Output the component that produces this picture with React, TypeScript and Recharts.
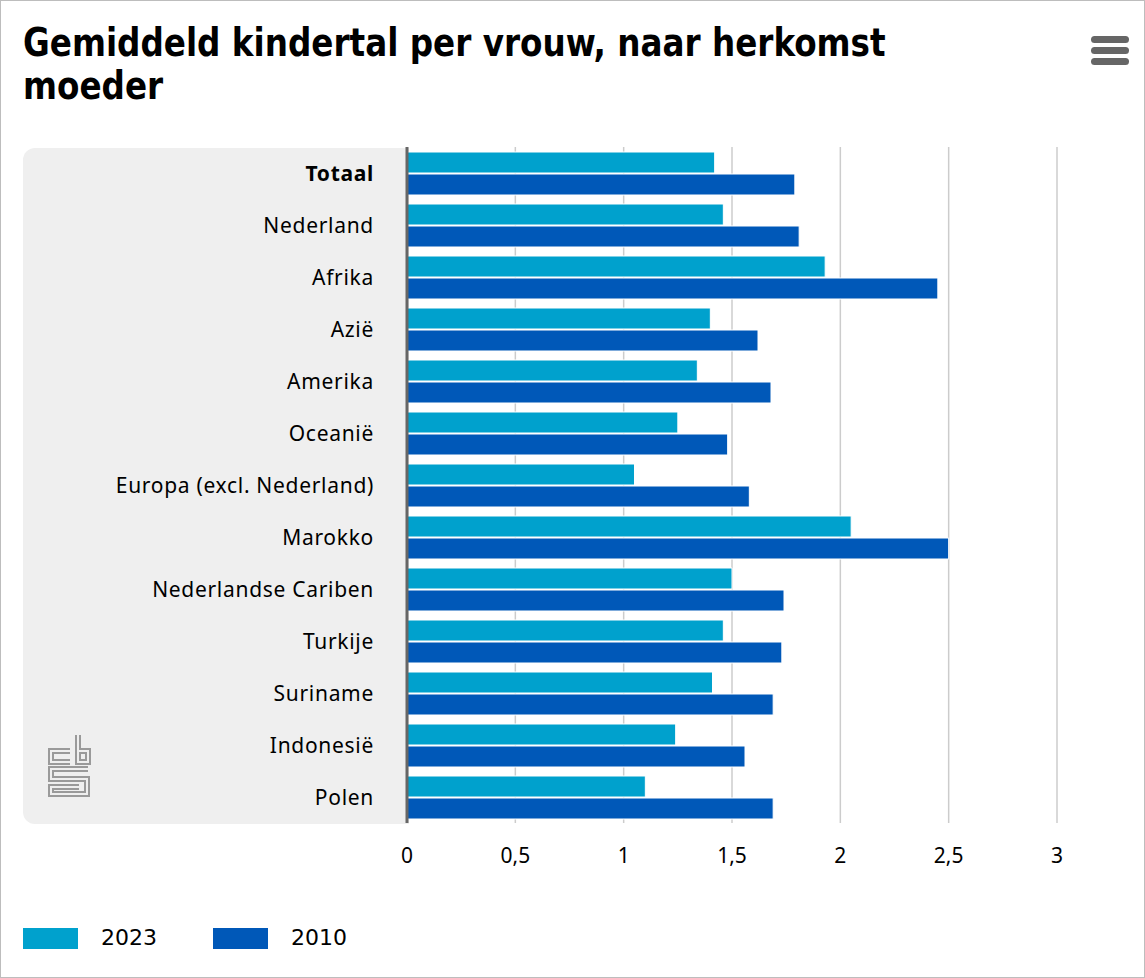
import React from 'react';
import { BarChart, Bar, XAxis, YAxis, CartesianGrid } from 'recharts';

const categories = [
  'Totaal',
  'Nederland',
  'Afrika',
  'Azië',
  'Amerika',
  'Oceanië',
  'Europa (excl. Nederland)',
  'Marokko',
  'Nederlandse Cariben',
  'Turkije',
  'Suriname',
  'Indonesië',
  'Polen',
];
const values2023 = [1.42, 1.46, 1.93, 1.40, 1.34, 1.25, 1.05, 2.05, 1.50, 1.46, 1.41, 1.24, 1.10];
const values2010 = [1.79, 1.81, 2.45, 1.62, 1.68, 1.48, 1.58, 2.50, 1.74, 1.73, 1.69, 1.56, 1.69];
const xTicks = [0, 0.5, 1, 1.5, 2, 2.5, 3];
const seriesNames = ['2023', '2010'];
const seriesColors = ['#00a1cd', '#0058b8'];

const data = categories.map((name, i) => ({
  name,
  v2023: values2023[i],
  v2010: values2010[i],
}));

const labelFont = "'Noto Sans', 'DejaVu Sans', sans-serif";

const CategoryTick = (props: any) => {
  const { x, y, payload } = props;
  const bold = payload.value === 'Totaal';
  return (
    <text
      x={x}
      y={y}
      textAnchor="end"
      dominantBaseline="central"
      fontFamily={labelFont}
      fontSize={21}
      letterSpacing={0.7}
      fontWeight={bold ? 700 : 400}
      fill="#000"
    >
      {payload.value}
    </text>
  );
};

const Hamburger = () => (
  <svg width={40} height={34} style={{ position: 'absolute', left: 1089, top: 32 }}>
    {[3, 14, 25].map((y) => (
      <rect key={y} x={1} y={y} width={38} height={7} rx={3.5} fill="#666" />
    ))}
  </svg>
);

const CbsLogo = () => {
  const paths = [
    'M69 750 H50 V761 H69',
    'M77 734 V761 H87 V750 H77',
    'M87 768 H50 V778 H86 V793 H50 V786 H78',
  ];
  return (
    <svg width={120} height={90} style={{ position: 'absolute', left: 0, top: 720 }} viewBox="0 720 120 90">
      {paths.map((d, i) => (
        <path key={'o' + i} d={d} fill="none" stroke="#9a9a9a" strokeWidth={6} strokeLinejoin="miter" />
      ))}
      {paths.map((d, i) => (
        <path key={'i' + i} d={d} fill="none" stroke="#efefef" strokeWidth={2} strokeLinejoin="miter" />
      ))}
    </svg>
  );
};

export default function App() {
  return (
    <div
      style={{
        position: 'absolute',
        left: 0,
        top: 0,
        width: 1145,
        height: 978,
        boxSizing: 'border-box',
        border: '1px solid #bdbdbd',
        background: '#fff',
        overflow: 'hidden',
      }}
    >
      <div
        style={{
          position: 'absolute',
          left: 22,
          top: 147,
          width: 386,
          height: 676,
          background: '#efefef',
          borderRadius: '12px 0 0 12px',
        }}
      />
      <div
        style={{
          position: 'absolute',
          left: 22,
          top: 20,
          fontFamily: "'DejaVu Sans Condensed', 'DejaVu Sans', sans-serif",
          fontStretch: 'condensed',
          fontWeight: 700,
          fontSize: 39,
          lineHeight: '43px',
          color: '#000',
          whiteSpace: 'nowrap',
          transform: 'scaleX(0.93)',
          transformOrigin: '0 0',
        }}
      >
        Gemiddeld kindertal per vrouw, naar herkomst
        <br />
        moeder
      </div>
      <Hamburger />
      <CbsLogo />
      <div style={{ position: 'absolute', left: -1, top: -1 }}>
        <BarChart
          width={1145}
          height={978}
          data={data}
          layout="vertical"
          margin={{ top: 147, right: 88, bottom: 115, left: 0 }}
          barGap={1}
          barSize={21}
        >
          <CartesianGrid horizontal={false} stroke="#cccccc" strokeWidth={1.5} />
          <XAxis
            type="number"
            domain={[0, 3]}
            ticks={xTicks}
            interval={0}
            height={40}
            axisLine={false}
            tickLine={false}
            tickSize={0}
            tickMargin={25}
            tickFormatter={(v: number) => String(v).replace('.', ',')}
            tick={{ fontFamily: labelFont, fontSize: 21, fill: '#000' }}
          />
          <YAxis
            type="category"
            dataKey="name"
            width={407}
            interval={0}
            tickLine={false}
            tickSize={0}
            tickMargin={33}
            axisLine={{ stroke: '#666', strokeWidth: 3 }}
            tick={<CategoryTick />}
          />
          <Bar dataKey="v2023" name={seriesNames[0]} fill={seriesColors[0]} stroke="#ffffff" strokeWidth={1} isAnimationActive={false} />
          <Bar dataKey="v2010" name={seriesNames[1]} fill={seriesColors[1]} stroke="#ffffff" strokeWidth={1} isAnimationActive={false} />
        </BarChart>
      </div>
      {seriesNames.map((n, i) => (
        <React.Fragment key={n}>
          <div
            style={{
              position: 'absolute',
              left: 22 + i * 190,
              top: 927,
              width: 55,
              height: 21,
              background: seriesColors[i],
            }}
          />
          <div
            style={{
              position: 'absolute',
              left: 100 + i * 190,
              top: 922,
              fontFamily: "'DejaVu Sans', sans-serif",
              fontSize: 22,
              lineHeight: '30px',
              color: '#000',
            }}
          >
            {n}
          </div>
        </React.Fragment>
      ))}
    </div>
  );
}
